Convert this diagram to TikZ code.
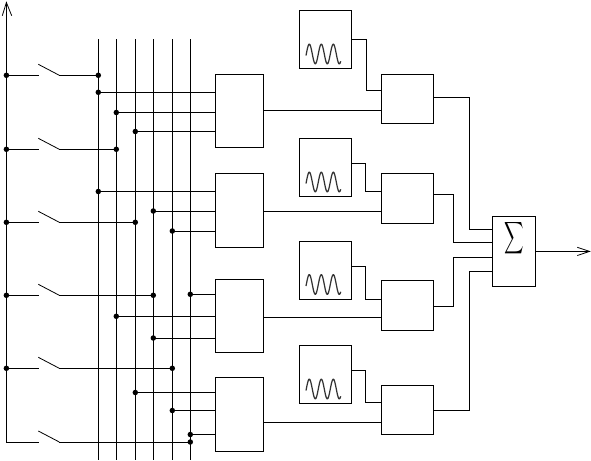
\documentclass[tikz,border=0pt]{standalone}
\usepackage{graphicx}
\tikzset{
  wire/.style={line width=0.95pt,line cap=square,line join=miter},
  blade/.style={line width=0.8pt},
  boxnode/.style={draw,line width=0.95pt,rectangle,inner sep=0pt,outer sep=0pt},
  wave/.style={line width=1.25pt,black!80},
  dotmark/.style={circle,fill=black,inner sep=0pt,minimum size=5.5pt}
}
% name, x1, y1, x2, y2
\newcommand{\blockbox}[5]{%
  \pgfmathsetmacro{\bw}{#4-#2}\pgfmathsetmacro{\bh}{#5-#3}%
  \pgfmathsetmacro{\bx}{(#2+#4)/2}\pgfmathsetmacro{\by}{(#3+#5)/2}%
  \node[boxnode,minimum width=\bw pt,minimum height=\bh pt] (#1) at (\bx,\by) {};}
% bus, y, block
\newcommand{\busin}[3]{%
  \coordinate (tmpy) at (0,#2);
  \node[dotmark] (d#1#3) at (#1 |- tmpy) {};
  \draw[wire] (d#1#3.center) -- (#3.west |- tmpy);}
% row, y, bus
\newcommand{\switchrow}[3]{%
  \coordinate (ry#1) at (0,#2);
  \coordinate (sa#1) at (38.5,#2);
  \coordinate (sb#1) at (59.3,#2);
  \coordinate (sc#1) at (38.3,#2-11);
  \node[dotmark] (e#1) at (#3 |- ry#1) {};
  \draw[wire] (sb#1) -- (e#1.center);
  \draw[blade] (sc#1) -- (sb#1);}
% osc, mixer, y out, x, y in
\newcommand{\oscmix}[5]{%
  \coordinate (oy) at (0,#3);\coordinate (my) at (0,#5);
  \draw[wire] (#1.east |- oy) -- (#4,#3) -- (#4,#5) -- (#2.west |- my);}
% mixer, y out, x, y in
\newcommand{\mixsum}[4]{%
  \coordinate (oy) at (0,#2);\coordinate (my) at (0,#4);
  \draw[wire] (#1.east |- oy) -- (#3,#2) -- (#3,#4) -- (sum.west |- my);}
% wave at vertical centre
\newcommand{\wavein}[1]{%
  \draw[wave] plot[domain=306:340.7,samples=90,smooth] (\x,{#1-9.8*cos(30*(\x-309.3))});}
\begin{document}
\begin{tikzpicture}[x=1pt,y=-1pt]
\useasboundingbox (0,0) rectangle (591,460);
% buses
\foreach \n/\x in {b1/98.3,b2/116.3,b3/135.3,b4/153.3,b5/172.3,b6/190.3}{
  \coordinate (\n) at (\x,39.3);
  \coordinate (\n end) at (\x,460);
  \draw[line width=0.95pt] (\n) -- (\n end);
}
% rail
\coordinate (railtop) at (6.4,2.5);
\coordinate (railbot) at (6.4,442);
\draw[wire] (railtop) -- (railbot);
\draw[blade] (2.3,15.7) -- (railtop) -- (11.7,15.7);
% switches
\switchrow{1}{75.3}{b1}
\switchrow{2}{149.3}{b2}
\switchrow{3}{222.3}{b3}
\switchrow{4}{295.3}{b4}
\switchrow{5}{368.3}{b5}
\switchrow{6}{442}{b6}
\foreach \r in {1,...,5}{
  \node[dotmark] (r\r) at (railtop |- ry\r) {};
  \draw[wire] (r\r.center) -- (sa\r);
}
\draw[wire] (railbot) -- (sa6);
% left blocks
\blockbox{L1}{215.3}{74.3}{263.7}{147.3}
\blockbox{L2}{215.3}{173.3}{263.7}{247.3}
\blockbox{L3}{215.3}{279.3}{263.7}{352.3}
\blockbox{L4}{215.3}{377}{263.7}{451.3}
% bus to block
\busin{b1}{92.3}{L1}
\busin{b2}{112.5}{L1}
\busin{b3}{131.5}{L1}
\busin{b1}{191.5}{L2}
\busin{b4}{211}{L2}
\busin{b5}{231}{L2}
\busin{b6}{294.3}{L3}
\busin{b2}{316.3}{L3}
\busin{b4}{338}{L3}
\busin{b3}{392.5}{L4}
\busin{b5}{410.5}{L4}
\busin{b6}{434.5}{L4}
% oscillators
\blockbox{O1}{299.3}{10.3}{351}{68.3}
\blockbox{O2}{299.3}{138}{351}{196.3}
\blockbox{O3}{299.3}{241.3}{351}{299}
\blockbox{O4}{299.3}{345.3}{351}{403.7}
\wavein{54}
\wavein{182}
\wavein{284.5}
\wavein{389}
% mixers
\blockbox{M1}{381.3}{74.3}{433.3}{123.3}
\blockbox{M2}{381.3}{173.3}{433.3}{223.3}
\blockbox{M3}{381.3}{280.3}{433.3}{330.3}
\blockbox{M4}{381.3}{385}{433.3}{434.3}
% block to mixer
\foreach \i/\y in {1/110.5,2/211.5,3/317,4/422.5}{
  \coordinate (ly) at (0,\y);
  \draw[wire] (L\i.east |- ly) -- (M\i.west |- ly);
}
\oscmix{O1}{M1}{39.5}{366.5}{90.5}
\oscmix{O2}{M2}{163.5}{365.5}{191.5}
\oscmix{O3}{M3}{266.3}{365.5}{299.5}
\oscmix{O4}{M4}{370.3}{365.5}{402.3}
% sum
\blockbox{sum}{492.5}{216.5}{535}{286.3}
\node[inner sep=0pt] (sigma) at (514.5,238) {\resizebox{19.5pt}{23.5pt}{$\displaystyle\sum$}};
\mixsum{M1}{97.5}{469.5}{229.5}
\mixsum{M2}{194.3}{453.5}{242.5}
\mixsum{M3}{306.3}{453.5}{257}
\mixsum{M4}{410.7}{469.5}{271.5}
\coordinate (outtip) at (589.5,251.4);
\draw[wire] (sum.east) -- (outtip);
\draw[blade] (577.3,247.3) -- (outtip) -- (577.3,255.5);
\end{tikzpicture}
\end{document}
